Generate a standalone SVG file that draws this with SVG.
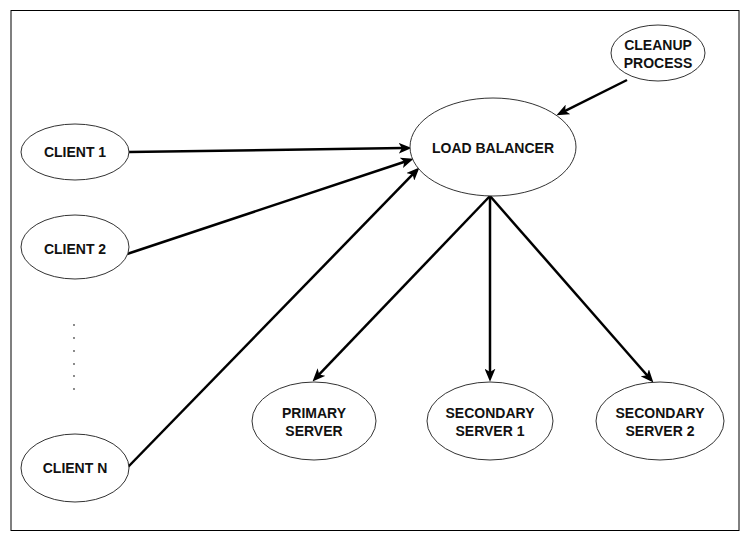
<svg xmlns="http://www.w3.org/2000/svg" width="752" height="538" viewBox="0 0 752 538">
<style>
.node ellipse{fill:#fff;stroke:#333;stroke-width:1}
.node text{font-family:"Liberation Sans",Arial,sans-serif;font-weight:bold;font-size:14px;fill:#111;text-anchor:middle}
.edge{stroke:#000;stroke-width:2.5;fill:none;marker-end:url(#arr)}
.dot{fill:#555}
</style>
<defs>
<marker id="arr" viewBox="0 0 12 10" refX="4" refY="5" markerWidth="13" markerHeight="11" markerUnits="userSpaceOnUse" orient="auto">
<path d="M0,0 L12,5 L0,10 L3,5 z" fill="#000"/>
</marker>
</defs>
<rect x="11" y="10.5" width="728" height="520" fill="#fff" stroke="#000" stroke-width="1"/>
<g id="connectors">
<line class="edge" x1="129" y1="152" x2="403" y2="148.1"/>
<line class="edge" x1="127" y1="254" x2="405.4" y2="161.5"/>
<line class="edge" x1="128" y1="467" x2="413.4" y2="173.7"/>
<line class="edge" x1="627" y1="80" x2="564.2" y2="111.4"/>
<line class="edge" x1="490" y1="196" x2="318.5" y2="375.2"/>
<line class="edge" x1="490" y1="196" x2="490" y2="373"/>
<line class="edge" x1="490" y1="196" x2="647.7" y2="376"/>
</g>
<g id="client1" class="node"><ellipse cx="75" cy="152" rx="54" ry="28"/><text x="75" y="157">CLIENT 1</text></g>
<g id="client2" class="node"><ellipse cx="75" cy="247" rx="54" ry="32"/><text x="75" y="254">CLIENT 2</text></g>
<g id="dots">
<circle class="dot" cx="74" cy="325" r="0.9"/>
<circle class="dot" cx="74" cy="338" r="0.9"/>
<circle class="dot" cx="74" cy="351" r="0.9"/>
<circle class="dot" cx="74" cy="364" r="0.9"/>
<circle class="dot" cx="74" cy="376" r="0.9"/>
<circle class="dot" cx="74" cy="389" r="0.9"/>
</g>
<g id="clientN" class="node"><ellipse cx="75" cy="468" rx="54" ry="34"/><text x="75" y="473">CLIENT N</text></g>
<g id="loadbalancer" class="node"><ellipse cx="493" cy="147" rx="83" ry="49"/><text x="493" y="153">LOAD BALANCER</text></g>
<g id="cleanup" class="node"><ellipse cx="658" cy="53" rx="47" ry="28"/><text x="658" y="50">CLEANUP</text><text x="658" y="68">PROCESS</text></g>
<g id="primary" class="node"><ellipse cx="314" cy="421" rx="62" ry="39"/><text x="314" y="418">PRIMARY</text><text x="314" y="436">SERVER</text></g>
<g id="secondary1" class="node"><ellipse cx="490" cy="421" rx="63" ry="39"/><text x="490" y="418">SECONDARY</text><text x="490" y="436">SERVER 1</text></g>
<g id="secondary2" class="node"><ellipse cx="660" cy="421" rx="64" ry="39"/><text x="660" y="418">SECONDARY</text><text x="660" y="436">SERVER 2</text></g>
</svg>
